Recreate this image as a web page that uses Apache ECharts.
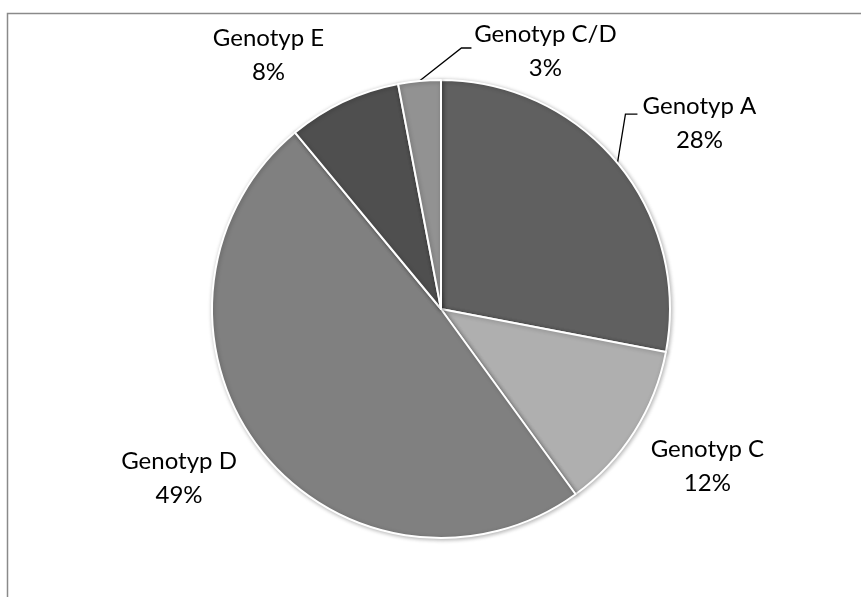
<!DOCTYPE html>
<html>
<head>
<meta charset="utf-8">
<title>Genotyp</title>
<script src="https://cdn.jsdelivr.net/npm/echarts@6/dist/echarts.min.js"></script>
<style>
  html, body { margin: 0; padding: 0; background: #ffffff; }
  #chart { width: 861px; height: 597px; }
</style>
</head>
<body>
<div id="chart"></div>
<script>
// Genotype shares (percent), clockwise from 12 o'clock
const categories = ['Genotyp A', 'Genotyp C', 'Genotyp D', 'Genotyp E', 'Genotyp C/D'];
const shares = [28, 12, 49, 8, 3];
const sliceColors = ['#606060', '#afafaf', '#808080', '#4f4f4f', '#929292'];

// Label placement relative to the slice's outer anchor point supplied by the library
const labelOffsets = [[82, -40], [73, 35], [-81, 29], [-75, -47], [126, -30]];
// Leader line bends (relative to the anchor); null = no leader
const leaderBends = [[[8, -49], [20, -49]], null, null, null, [[42, -33], [52, -33]]];

const FONT = 'Lato, "Open Sans", "Noto Sans", sans-serif';

const chart = echarts.init(document.getElementById('chart'), null, { renderer: 'canvas' });

const option = {
  backgroundColor: '#ffffff',
  animation: false,
  graphic: [{
    type: 'rect',
    shape: { x: 7.5, y: 13.5, width: 1000, height: 800 },
    style: { fill: 'none', stroke: '#8a8a8a', lineWidth: 1.5 },
    silent: true,
    z: 0
  }],
  series: [{
    type: 'pie',
    center: [441, 309],
    radius: 229,
    startAngle: 90,
    clockwise: true,
    avoidLabelOverlap: false,
    data: categories.map((name, i) => ({
      name: name,
      value: shares[i],
      itemStyle: { color: sliceColors[i] }
    })),
    itemStyle: {
      borderColor: '#ffffff',
      borderWidth: 2,
      shadowBlur: 4,
      shadowColor: 'rgba(0,0,0,0.28)',
      shadowOffsetX: 1,
      shadowOffsetY: 1
    },
    label: {
      show: true,
      position: 'outside',
      formatter: '{n|{b}}\n{n|{c}%}',
      rich: {
        n: {
          fontFamily: FONT,
          fontSize: 24,
          lineHeight: 34,
          color: '#000000',
          align: 'center'
        }
      }
    },
    labelLine: {
      show: true,
      length: 10,
      length2: 10,
      lineStyle: { color: '#000000', width: 1.3 }
    },
    emphasis: { disabled: true },
    labelLayout: function (params) {
      const i = params.dataIndex;
      const pts = params.labelLinePoints;
      const anchor = pts ? pts[0] : [params.rect.x, params.rect.y];
      const off = labelOffsets[i];
      const bends = leaderBends[i];
      const linePts = bends
        ? [anchor, [anchor[0] + bends[0][0], anchor[1] + bends[0][1]], [anchor[0] + bends[1][0], anchor[1] + bends[1][1]]]
        : [anchor, anchor, anchor];
      return {
        x: anchor[0] + off[0],
        y: anchor[1] + off[1],
        align: 'center',
        verticalAlign: 'middle',
        labelLinePoints: linePts
      };
    }
  }]
};

chart.setOption(option);
</script>
</body>
</html>
